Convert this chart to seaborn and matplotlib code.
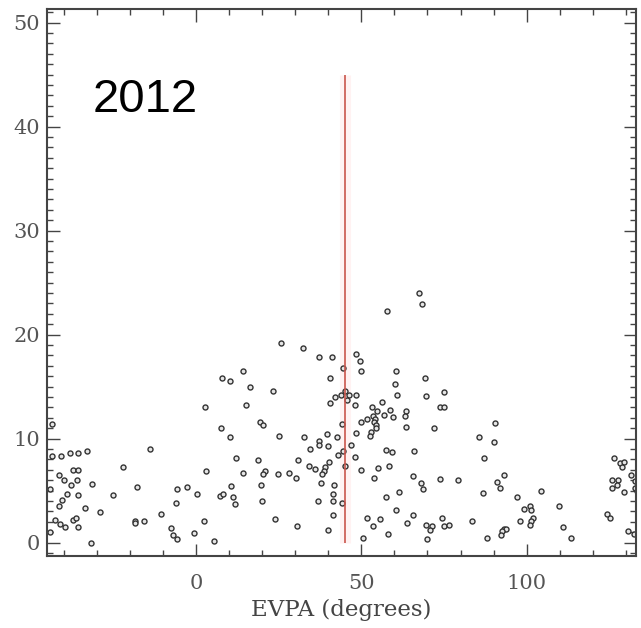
import matplotlib
matplotlib.use("Agg")
import matplotlib.pyplot as plt
import seaborn as sns
import pandas as pd
from matplotlib.ticker import MultipleLocator, FixedLocator

# ---- data ----
evpa_left = [-43.5, -13.9, -32.9, -35.7, -38.0, -40.8, -43.5, -37.0, -35.5, -21.9,
             -41.5, -40.0, -35.9, -31.4, -37.7, -17.9, -5.8, -2.8, -38.9, -35.6,
             -25.1, -40.5, -6.0, -41.5, -33.4, -28.9, -10.6, -42.5, -37.0, -36.1,
             -18.4, -18.4, -15.6, -41.0, -39.5, -35.7, -7.6, -7.0, -5.8, -31.7,
             -44.2, -44.2, 0.2, 3.2, -0.5, 2.4, 5.5]
value_left = [11.4, 9.0, 8.8, 8.6, 8.6, 8.3, 8.3, 7.0, 7.0, 7.3,
              6.5, 6.0, 6.0, 5.65, 5.5, 5.3, 5.1, 5.3, 4.7, 4.6,
              4.6, 4.1, 3.8, 3.5, 3.3, 2.9, 2.7, 2.2, 2.2, 2.4,
              2.1, 1.85, 2.05, 1.8, 1.5, 1.5, 1.4, 0.7, 0.35, 0.0,
              1.0, 5.1, 4.7, 6.9, 0.9, 2.1, 0.1]

evpa_mid = [25.8, 32.3, 37.1, 41.2, 14.3, 7.9, 10.4, 40.6, 16.3, 23.3,
            42.2, 40.6, 2.7, 15.1, 19.3, 20.3, 7.7, 10.4, 25.1, 32.6,
            37.1, 37.1, 39.7, 39.9, 42.7, 34.5, 12.2, 18.8, 30.8, 42.9,
            40.2, 34.1, 36.1, 38.9, 38.6, 38.2, 14.1, 20.8, 20.3, 24.8,
            28.1, 30.3, 10.7, 19.8, 37.9, 41.9, 7.4, 8.2, 11.1, 11.7,
            20.1, 36.8, 41.4, 41.6, 41.6, 23.8, 30.5, 39.9]
value_mid = [19.2, 18.7, 17.8, 17.8, 16.5, 15.8, 15.5, 15.8, 15.0, 14.6,
             14.0, 13.4, 13.0, 13.2, 11.6, 11.3, 11.0, 10.1, 10.2, 10.1,
             9.8, 9.4, 10.4, 9.3, 10.1, 9.0, 8.1, 7.9, 7.9, 8.4,
             7.7, 7.4, 7.1, 7.3, 6.9, 6.6, 6.7, 6.9, 6.6, 6.55,
             6.7, 6.2, 5.4, 5.5, 5.7, 5.5, 4.5, 4.7, 4.4, 3.7,
             4.0, 4.0, 4.7, 4.0, 2.6, 2.3, 1.6, 1.2]

evpa_centre = [67.3, 68.5, 57.7, 48.4, 49.6, 49.9, 60.4, 69.3, 60.1, 75.0,
               60.7, 69.7, 44.6, 45.2, 46.2, 45.6, 43.9, 48.5, 48.2, 56.2,
               53.2, 73.7, 75.0, 54.9, 56.9, 58.6, 59.6, 63.5, 63.2, 53.4,
               54.2, 53.9, 54.6, 54.4, 51.6, 49.9, 63.5, 72.0, 52.9, 52.6,
               48.4, 44.2, 46.9, 44.4, 48.2, 45.2, 57.6, 59.4, 66.0, 85.5,
               87.0, 49.9, 55.2, 58.4, 53.7, 65.5, 68.0, 68.7, 73.7, 79.3,
               86.7, 61.4, 57.4, 60.6, 65.7, 51.7, 55.7, 53.4, 63.8, 69.7,
               71.5, 70.7, 74.5, 75.0, 76.5, 83.5, 58.2, 69.8, 50.6, 88.0,
               44.2]
value_centre = [24.0, 22.9, 22.3, 18.1, 17.5, 16.5, 16.5, 15.8, 15.2, 14.5,
                14.2, 14.1, 16.8, 14.6, 14.2, 13.7, 14.2, 14.2, 13.2, 13.5,
                13.0, 13.0, 13.0, 12.65, 12.3, 12.7, 12.1, 12.65, 12.2, 12.2,
                11.9, 11.6, 11.3, 11.05, 11.9, 11.6, 11.1, 11.0, 10.6, 10.2,
                10.5, 11.4, 9.4, 8.8, 8.2, 7.4, 8.9, 8.7, 8.8, 10.1,
                8.1, 7.0, 7.2, 7.35, 6.2, 6.4, 5.75, 5.1, 6.1, 6.0,
                4.8, 4.9, 4.4, 3.15, 2.6, 2.4, 2.25, 1.6, 1.9, 1.7,
                1.6, 1.2, 2.4, 1.6, 1.7, 2.1, 0.8, 0.35, 0.45, 0.45,
                3.8]

evpa_right = [90.4, 90.1, 93.1, 91.1, 91.8, 104.3, 97.1, 99.1, 101.1, 101.4,
              101.8, 101.4, 101.1, 98.1, 109.8, 111.1, 113.4, 93.1, 93.8, 92.6,
              92.1, 126.5, 128.2, 129.5, 128.9, 131.5, 125.9, 127.5, 127.2, 125.9,
              129.5, 132.7, 132.7, 133.2, 124.2, 125.2, 130.5, 132.5]
value_right = [11.5, 9.7, 6.5, 5.8, 5.2, 5.0, 4.4, 3.2, 3.5, 3.15,
               2.4, 2.05, 1.7, 2.1, 3.5, 1.5, 0.45, 1.3, 1.3, 1.1,
               0.7, 8.1, 7.6, 7.7, 7.3, 6.5, 6.0, 6.0, 5.5, 5.2,
               4.9, 5.9, 5.2, 5.0, 2.7, 2.4, 1.1, 0.8]

ref_evpa = 45
ref_bottom = 0
ref_top = 45
year_label = "2012"
x_label = "EVPA (degrees)"
x_ticks = [0, 50, 100]
y_ticks = [0, 10, 20, 30, 40, 50]

df = pd.DataFrame({
    "evpa": evpa_left + evpa_mid + evpa_centre + evpa_right,
    "value": value_left + value_mid + value_centre + value_right,
})

sns.set_theme(style="ticks")
plt.rcParams["font.family"] = ["DejaVu Serif"]

fig = plt.figure(figsize=(6.41, 6.28), dpi=100)
fig.patch.set_facecolor("white")
ax = fig.add_axes([0.0733, 0.1146, 0.9187, 0.8711])
ax.set_facecolor("white")

# reference line with soft glow
ax.vlines(ref_evpa, ref_bottom, ref_top, color="#ffe4e4", lw=8, alpha=0.45, zorder=1)
ax.vlines(ref_evpa, ref_bottom, ref_top, color="#c9554c", lw=1.2, zorder=3)

sns.scatterplot(data=df, x="evpa", y="value", ax=ax, marker="o", s=13,
                facecolors="#e6e6e6", edgecolor="#333333", linewidth=1.0,
                zorder=2, legend=False)

ax.set_xlim(-45, 133)
ax.set_ylim(-1.3, 51.3)
ax.xaxis.set_major_locator(FixedLocator(x_ticks))
ax.yaxis.set_major_locator(FixedLocator(y_ticks))
ax.xaxis.set_minor_locator(MultipleLocator(10))
ax.yaxis.set_minor_locator(MultipleLocator(1))
ax.tick_params(which="both", direction="in", top=True, right=True,
               color="#444444", width=1.0)
ax.tick_params(which="major", length=9)
ax.tick_params(which="minor", length=4.5)
ax.tick_params(axis="x", which="major", pad=13, labelsize=15, labelcolor="#555555")
ax.tick_params(axis="y", which="major", pad=5, labelsize=15, labelcolor="#555555")
for sp in ax.spines.values():
    sp.set_color("#444444")
    sp.set_linewidth(1.5)

ax.set_xlabel(x_label, fontsize=16.5, color="#444444", labelpad=4)
ax.set_ylabel("")

ax.text(-31.3, 41.4, year_label, fontsize=34, family=["Liberation Sans", "DejaVu Sans"],
        ha="left", va="baseline", color="black")

fig.savefig("out.png", dpi=100, facecolor="white")
